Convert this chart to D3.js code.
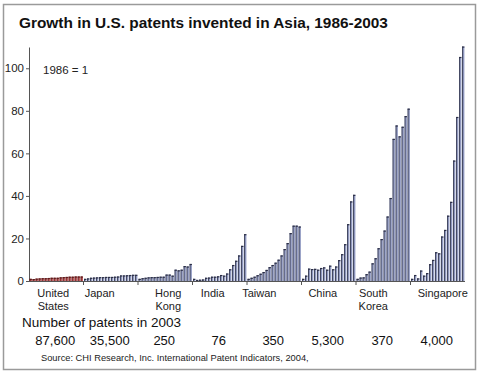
<!DOCTYPE html>
<html><head><meta charset="utf-8">
<script src="https://cdn.jsdelivr.net/npm/d3@7"></script>
<style>body{margin:0;background:#fff;}svg{display:block;font-family:"Liberation Sans",Arial,sans-serif;}</style>
</head><body>
<script>
const categories = ["United States","Japan","Hong Kong","India","Taiwan","China","South Korea","Singapore"];
const years = [1986,1987,1988,1989,1990,1991,1992,1993,1994,1995,1996,1997,1998,1999,2000,2001,2002,2003];
const unitedStates = [1,0.9,1.1,1.2,1.3,1.3,1.4,1.5,1.5,1.5,1.7,1.8,1.9,2.0,2.0,2.1,2.1,2.1];
const japan = [1,1.2,1.5,1.6,1.7,1.8,1.8,1.9,1.9,1.9,2.0,2.1,2.6,2.6,2.7,2.8,2.9,2.9];
const hongKong = [1,1.3,1.5,1.7,1.8,1.8,1.9,2.0,2.0,3.0,3.0,2.5,5.3,5.0,5.3,7.0,6.8,8.0];
const india = [1,0.5,0.6,0.7,1.5,1.6,2.0,2.0,2.2,2.8,2.5,3.5,5.5,7.5,9.5,12,16.5,22];
const taiwan = [1,1.5,2,2.7,3.4,4.2,5.2,6.5,7.5,8.6,10,12,15,17.8,22.5,26,26,25.6];
const china = [1,2.5,5.8,5.6,5.7,5.3,6.1,6.4,5.3,7.2,5.5,6.8,9.8,12.6,17.3,26.7,37.4,40.5];
const southKorea = [1,1.6,1.7,3.2,4.4,8.3,10.7,15.4,19.7,23.7,30.3,39,66.8,73.1,68,72.5,77.5,81];
const singapore = [1,2.8,1.2,4.9,2.5,3.7,7.9,9.9,13.5,13,20.9,24,30.7,37.2,56.6,77.1,105.3,110.2];
const patents2003 = ["87,600","35,500","250","76","350","5,300","370","4,000"];
const yTicks = [0,20,40,60,80,100];

const seriesByCat = [unitedStates,japan,hongKong,india,taiwan,china,southKorea,singapore];
const labelNudge = [-3,-11,3,-7,-15,-6,-10,5];

const W = 480, H = 375;
const svg = d3.select("body").append("svg").attr("width",W).attr("height",H);

svg.append("rect").attr("x",3.5).attr("y",4.5).attr("width",472).attr("height",365)
  .attr("fill","#fff").attr("stroke","#9a9a9a").attr("stroke-width",1.5);

svg.append("text").attr("x",19).attr("y",28).attr("font-size",15.4).attr("font-weight","bold")
  .attr("fill","#111").text("Growth in U.S. patents invented in Asia, 1986-2003");

const x0 = d3.scaleBand().domain(categories).range([29,465]).padding(0);
const x1 = d3.scaleBand().domain(years).range([0,x0.bandwidth()]).paddingInner(0.25).paddingOuter(0.2);
const y = d3.scaleLinear().domain([0,110]).range([281,47]);

// y axis
const yAxis = svg.append("g").attr("transform","translate(29,0)")
  .call(d3.axisLeft(y).tickValues(yTicks).tickSize(3).tickSizeOuter(0).tickPadding(2));
yAxis.select(".domain").attr("stroke","#555");
yAxis.selectAll(".tick line").attr("stroke","#555");
yAxis.selectAll(".tick text").attr("font-size",11.5).attr("fill","#222").attr("font-family","Liberation Sans, Arial, sans-serif");

svg.append("text").attr("x",43).attr("y",74).attr("font-size",11.5).attr("fill","#222").text("1986 = 1");

// bars
const groups = svg.selectAll("g.grp").data(categories).join("g").attr("class","grp")
  .attr("transform",d=>`translate(${x0(d)},0)`);
groups.each(function(cat,ci){
  const vals = seriesByCat[ci];
  const g = d3.select(this);
  const fill = ci===0 ? "#b54a4c" : "#929bc2";
  const edge = ci===0 ? "#5a1a1a" : "#2b2e45";
  g.selectAll("rect").data(vals).join("rect")
    .attr("x",(v,i)=>x1(years[i]))
    .attr("y",v=>y(v))
    .attr("width",x1.bandwidth())
    .attr("height",v=>y(0)-y(v))
    .attr("fill",fill);
  g.selectAll("line.edge").data(vals).join("line").attr("class","edge")
    .attr("x1",(v,i)=>x1(years[i])+0.4).attr("x2",(v,i)=>x1(years[i])+0.4)
    .attr("y1",v=>y(v)).attr("y2",y(0))
    .attr("stroke",edge).attr("stroke-width",0.8);
  g.selectAll("line.cap").data(vals).join("line").attr("class","cap")
    .attr("x1",(v,i)=>x1(years[i])).attr("x2",(v,i)=>x1(years[i])+x1.bandwidth())
    .attr("y1",v=>y(v)+0.5).attr("y2",v=>y(v)+0.5)
    .attr("stroke",edge).attr("stroke-width",1.2);
});

// x axis
svg.append("line").attr("x1",29).attr("x2",465).attr("y1",281.5).attr("y2",281.5).attr("stroke","#555");
svg.selectAll("line.xt").data(categories.slice(1)).join("line").attr("class","xt")
  .attr("x1",d=>x0(d)).attr("x2",d=>x0(d)).attr("y1",281).attr("y2",285).attr("stroke","#555");

// category labels
categories.forEach((c,i)=>{
  const cx = x0(c)+x0.bandwidth()/2+labelNudge[i];
  const lines = c.split(" ");
  const t = svg.append("text").attr("text-anchor","middle").attr("font-size",11).attr("fill","#222");
  lines.forEach((ln,k)=>t.append("tspan").attr("x",cx).attr("y",297+k*13).text(ln));
});

svg.append("text").attr("x",22).attr("y",327).attr("font-size",13.5).attr("fill","#111").text("Number of patents in 2003");
svg.selectAll("text.num").data(patents2003).join("text").attr("class","num")
  .attr("x",(d,i)=>x0(categories[i])+x0.bandwidth()/2-1).attr("y",345)
  .attr("text-anchor","middle").attr("font-size",13).attr("fill","#111").text(d=>d);

svg.append("text").attr("x",41).attr("y",361).attr("font-size",9.3).attr("fill","#222")
  .text("Source: CHI Research, Inc. International Patent Indicators, 2004,");
</script>
</body></html>
